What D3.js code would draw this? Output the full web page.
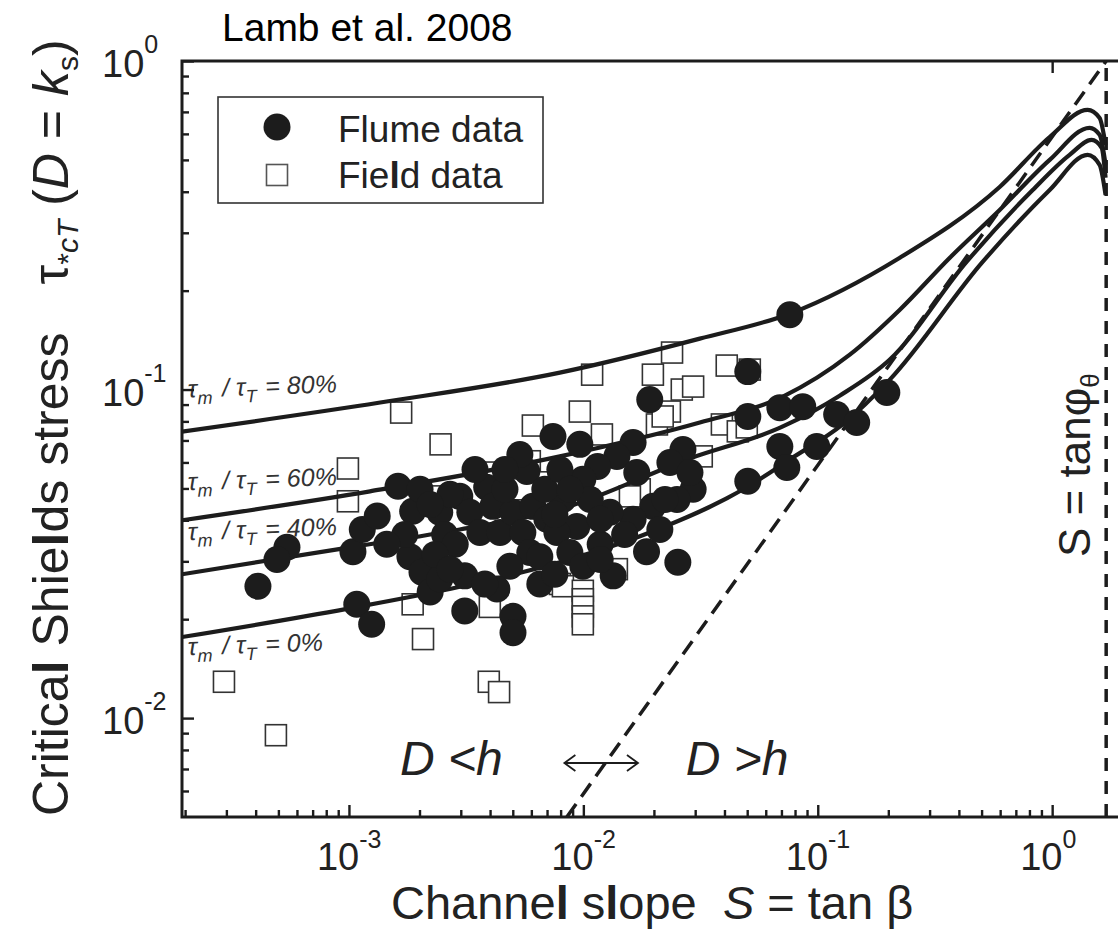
<!DOCTYPE html>
<html>
<head>
<meta charset="utf-8">
<script src="https://cdn.jsdelivr.net/npm/d3@7"></script>
<style>
  body { margin: 0; background: #fff; }
  svg { display: block; font-family: "Liberation Sans", Arial, Helvetica, sans-serif; }
  text { white-space: pre; }
</style>
</head>
<body>
<svg id="chart" width="1118" height="935"></svg>
<script>
// axis ranges and tick labels
const xDomain = [1.94e-4, 3];
const yDomain = [0.005, 1];
const xMajorTicks = [1e-3, 1e-2, 1e-1, 1];
const xTickExponents = ["-3", "-2", "-1", "0"];
const yMajorTicks = [1e-2, 1e-1, 1];
const yTickExponents = ["-2", "-1", "0"];

// field data (open squares), [S, tau]
const fieldData = [
  [2.93e-4, 0.0129], [4.88e-4, 0.00887], [1.67e-3, 0.0851], [2.46e-3, 0.0681], [9.9e-4, 0.0575], [9.9e-4, 0.0457],
  [6.09e-3, 0.0777], [5.91e-3, 0.0605], [6.39e-3, 0.0522], [5.52e-3, 0.0497], [2.29e-3, 0.0473], [3.91e-3, 0.0559],
  [1.87e-3, 0.0222], [2.07e-3, 0.0174], [7.94e-3, 0.0256], [3.99e-3, 0.0218],
  [0.0109, 0.111], [0.0239, 0.1296], [0.0198, 0.111], [0.0263, 0.1], [0.0294, 0.1021], [0.0409, 0.1183], [0.0513, 0.115],
  [9.66e-3, 0.0857], [0.012, 0.073], [0.0234, 0.0857], [0.0206, 0.0783], [0.0218, 0.0828], [0.039, 0.0783],
  [0.0456, 0.0746], [0.0498, 0.0767], [0.032, 0.0626],
  [0.0139, 0.0284], [8.18e-3, 0.0252], [9.95e-3, 0.0244], [9.95e-3, 0.023], [9.95e-3, 0.0218], [9.95e-3, 0.0204],
  [9.95e-3, 0.0193], [0.0174, 0.0497], [0.0158, 0.0473], [3.95e-3, 0.0129], [4.37e-3, 0.012]
];

// flume data (filled circles), [S, tau]
const flumeData = [
  [4.09e-4, 0.0252], [5.44e-4, 0.0331], [4.93e-4, 0.0304], [1.04e-3, 0.0321], [1.14e-3, 0.0375], [1.32e-3, 0.0412],
  [1.62e-3, 0.0508], [1.87e-3, 0.0426], [1.82e-3, 0.031], [2.05e-3, 0.0278], [2.22e-3, 0.0242], [1.08e-3, 0.0222],
  [1.25e-3, 0.0193], [2.44e-3, 0.0423], [2.97e-3, 0.0473], [3.28e-3, 0.0423], [3.12e-3, 0.0271], [3.12e-3, 0.0212],
  [3.87e-3, 0.0504], [4.11e-3, 0.0441], [3.62e-3, 0.0367], [4.41e-3, 0.0367], [5.01e-3, 0.0423], [5.52e-3, 0.0367],
  [5.91e-3, 0.0319], [4.86e-3, 0.029], [4.28e-3, 0.0247], [5.01e-3, 0.0204], [5.01e-3, 0.0182], [5.74e-3, 0.0563],
  [6.52e-3, 0.031], [7.42e-3, 0.072], [6.09e-3, 0.0441], [6.99e-3, 0.0403],
  [0.076, 0.169], [0.0503, 0.1134], [0.0192, 0.0932], [0.0503, 0.0828], [0.0689, 0.0881], [0.0863, 0.0887],
  [0.1204, 0.084], [0.1466, 0.0794], [0.1971, 0.0979], [0.0689, 0.0671], [0.099, 0.0671], [0.0738, 0.0579],
  [0.0503, 0.0526], [0.0294, 0.0497], [0.0163, 0.069], [0.0139, 0.0626], [0.0115, 0.0583], [9.95e-3, 0.0533],
  [8.18e-3, 0.0463], [0.0266, 0.0657], [0.0234, 0.06], [0.0198, 0.0441], [0.0163, 0.0403], [0.013, 0.0423],
  [0.0107, 0.0463], [9.38e-3, 0.0383], [7.71e-3, 0.0367], [8.76e-3, 0.0319], [9.95e-3, 0.029], [0.0186, 0.0321],
  [0.0253, 0.0298], [0.0134, 0.0271], [0.0169, 0.0559], [0.0251, 0.0463], [0.0285, 0.0559],
  [2.56e-3, 0.0362], [2.7e-3, 0.048], [3.45e-3, 0.0571], [4.63e-3, 0.0497], [6.85e-3, 0.0497], [2.44e-3, 0.0265],
  [3.8e-3, 0.0256], [6.52e-3, 0.0256], [2.84e-3, 0.0338], [5.36e-3, 0.0634], [7.94e-3, 0.0571], [0.0118, 0.0338],
  [0.0212, 0.0375],
  [2.01e-3, 0.0497], [1.73e-3, 0.0362], [2.33e-3, 0.0315], [7.56e-3, 0.0417], [8.76e-3, 0.0497], [0.0118, 0.0403],
  [0.015, 0.0362], [0.0223, 0.0463], [0.0118, 0.0304], [7.56e-3, 0.0274], [2.7e-3, 0.0284], [1.45e-3, 0.0338],
  [2.22e-3, 0.0447], [4.63e-3, 0.0571], [9.66e-3, 0.0681]
];

// model curves for tau_m / tau_T, [S, tau]
const curve80 = [[1.94e-4, 0.0745], [1.36e-3, 0.0913], [7.94e-3, 0.1126], [0.0314, 0.1429], [0.076, 0.1702],
  [0.224, 0.2519], [0.597, 0.4136], [0.976, 0.587], [1.417, 0.71], [1.594, 0.671], [1.69, 0.555]];
const curve60 = [[1.94e-4, 0.04], [1.23e-3, 0.049], [7.94e-3, 0.0626], [0.0314, 0.0794], [0.071, 0.0952],
  [0.137, 0.1277], [0.224, 0.175], [0.366, 0.2519], [0.597, 0.352], [0.976, 0.5], [1.445, 0.626], [1.594, 0.596],
  [1.69, 0.483]];
const curve40 = [[1.94e-4, 0.0274], [1.01e-3, 0.0331], [2.97e-3, 0.0375], [7.94e-3, 0.0432], [0.0285, 0.0617],
  [0.071, 0.0772], [0.124, 0.0958], [0.203, 0.1234], [0.432, 0.245], [0.826, 0.405], [1.187, 0.518],
  [1.474, 0.575], [1.626, 0.544], [1.69, 0.441]];
const curve0 = [[1.94e-4, 0.01765], [9.8e-4, 0.0215], [2.97e-3, 0.0251], [7.94e-3, 0.0298], [0.0192, 0.0367],
  [0.0498, 0.0504], [0.076, 0.0613], [0.1277, 0.0783], [0.203, 0.1072], [0.506, 0.245], [0.976, 0.405],
  [1.417, 0.518], [1.594, 0.483], [1.69, 0.391]];
const curves = [curve80, curve60, curve40, curve0];
const curveLabels = ["80%", "60%", "40%", "0%"];
const curveLabelPos = [[2.06e-4, 0.0946], [2.06e-4, 0.0494], [2.06e-4, 0.0348], [2.06e-4, 0.01553]];

// reference lines
const diagonalLine = [[0.0085, 0.005], [1.7, 1.0]];
const tanPhi = 1.7;

const svg = d3.select("#chart");
const W = 1118, H = 935;
const plotBox = { left: 182, top: 61, right: 1164, bottom: 817 };
const ink = "#1c1c1c";

const x = d3.scaleLog().domain(xDomain).range([plotBox.left, plotBox.right]);
const y = d3.scaleLog().domain(yDomain).range([plotBox.bottom, plotBox.top]);

svg.append("rect").attr("width", W).attr("height", H).attr("fill", "#fff");

const defs = svg.append("defs");
defs.append("clipPath").attr("id", "plot-clip")
  .append("rect")
  .attr("x", plotBox.left).attr("y", plotBox.top)
  .attr("width", plotBox.right - plotBox.left).attr("height", plotBox.bottom - plotBox.top);
defs.append("marker")
  .attr("id", "arrow").attr("viewBox", "-12 -9 14 18")
  .attr("refX", 0).attr("refY", 0)
  .attr("markerWidth", 14).attr("markerHeight", 18)
  .attr("markerUnits", "userSpaceOnUse")
  .attr("orient", "auto-start-reverse")
  .append("path").attr("d", "M-11,-8 L0,0 L-11,8").attr("fill", "none")
  .attr("stroke", ink).attr("stroke-width", 1.8);

const plot = svg.append("g").attr("clip-path", "url(#plot-clip)");

// field squares (under the curves)
plot.append("g").selectAll("rect")
  .data(fieldData)
  .join("rect")
  .attr("x", d => x(d[0]) - 10.5)
  .attr("y", d => y(d[1]) - 10.5)
  .attr("width", 21).attr("height", 21)
  .attr("fill", "#fff").attr("stroke", "#333").attr("stroke-width", 1.6);

// model curves
const lineGen = d3.line().x(d => x(d[0])).y(d => y(d[1])).curve(d3.curveMonotoneX);
plot.append("g").selectAll("path")
  .data(curves)
  .join("path")
  .attr("d", lineGen)
  .attr("fill", "none").attr("stroke", ink).attr("stroke-width", 4.2)
  .attr("stroke-linejoin", "round");

// dashed reference lines
plot.append("path")
  .attr("d", d3.line().x(d => x(d[0])).y(d => y(d[1]))(diagonalLine))
  .attr("fill", "none").attr("stroke", ink).attr("stroke-width", 3.5)
  .attr("stroke-dasharray", "16,9");
plot.append("line")
  .attr("x1", x(tanPhi)).attr("x2", x(tanPhi))
  .attr("y1", y(yDomain[0])).attr("y2", y(yDomain[1]))
  .attr("stroke", ink).attr("stroke-width", 3.5)
  .attr("stroke-dasharray", "13,10");

// flume circles
plot.append("g").selectAll("circle")
  .data(flumeData)
  .join("circle")
  .attr("cx", d => x(d[0]))
  .attr("cy", d => y(d[1]))
  .attr("r", 13.5)
  .attr("fill", ink);

// curve labels
curveLabels.forEach((lab, i) => {
  const [sx, ty] = curveLabelPos[i];
  const t = svg.append("text")
    .attr("transform", `translate(${x(sx)},${y(ty)}) rotate(-2)`)
    .attr("font-size", 25).attr("font-style", "italic").attr("fill", "#333");
  t.append("tspan").text("τ");
  t.append("tspan").attr("font-size", 18).attr("dy", 7).text("m");
  t.append("tspan").attr("dy", -7).attr("dx", 3).text(" / τ");
  t.append("tspan").attr("font-size", 18).attr("dy", 7).text("T");
  t.append("tspan").attr("dy", -7).attr("dx", 2).text(" = " + lab);
});

// D < h annotations
const regionTau = 0.00671;
svg.append("text").attr("x", x(1.65e-3)).attr("y", y(regionTau))
  .attr("font-size", 48).attr("font-style", "italic").attr("fill", "#222").text("D <h");
svg.append("text").attr("x", x(0.02735)).attr("y", y(regionTau))
  .attr("font-size", 48).attr("font-style", "italic").attr("fill", "#222").text("D >h");
svg.append("line")
  .attr("x1", x(8.3e-3)).attr("x2", x(0.0171))
  .attr("y1", y(0.0073)).attr("y2", y(0.0073))
  .attr("stroke", ink).attr("stroke-width", 1.8)
  .attr("marker-start", "url(#arrow)").attr("marker-end", "url(#arrow)");

// S = tan phi label
const phiLabel = svg.append("text")
  .attr("transform", `translate(1090,557) rotate(-90)`)
  .attr("font-size", 44).attr("fill", "#222");
phiLabel.append("tspan").text("S = tanφ");
phiLabel.append("tspan").attr("font-size", 26).attr("dy", 9).text("θ");

// axes: ticks pointing inward
function minorTicks(lo, hi) {
  const out = [];
  for (let k = -5; k <= 1; k++) {
    for (let m = 2; m <= 9; m++) {
      const v = m * Math.pow(10, k);
      if (v > lo && v < hi) out.push(v);
    }
  }
  return out;
}

const axes = svg.append("g").attr("color", ink);
axes.append("g").attr("transform", `translate(0,${plotBox.bottom})`)
  .call(d3.axisBottom(x).tickValues(xMajorTicks).tickSize(-12).tickFormat(""));
axes.append("g").attr("transform", `translate(0,${plotBox.bottom})`)
  .call(d3.axisBottom(x).tickValues(minorTicks(xDomain[0], xDomain[1])).tickSize(-7).tickFormat(""));
axes.append("g").attr("transform", `translate(${plotBox.left},0)`)
  .call(d3.axisLeft(y).tickValues(yMajorTicks).tickSize(-12).tickFormat(""));
axes.append("g").attr("transform", `translate(${plotBox.left},0)`)
  .call(d3.axisLeft(y).tickValues(minorTicks(yDomain[0], yDomain[1])).tickSize(-7).tickFormat(""));
axes.append("g").attr("transform", `translate(0,${plotBox.top})`)
  .call(d3.axisTop(x).tickValues([1]).tickSize(-12).tickFormat(""));
axes.selectAll(".domain").remove();
axes.selectAll(".tick line").attr("stroke-width", 2.4);

// frame
svg.append("rect")
  .attr("x", plotBox.left).attr("y", plotBox.top)
  .attr("width", plotBox.right - plotBox.left).attr("height", plotBox.bottom - plotBox.top)
  .attr("fill", "none").attr("stroke", ink).attr("stroke-width", 3);

// tick labels
xMajorTicks.forEach((v, i) => {
  const t = svg.append("text").attr("x", x(v) - 32).attr("y", plotBox.bottom + 53)
    .attr("font-size", 38).attr("fill", "#222");
  t.append("tspan").text("10");
  t.append("tspan").attr("font-size", 25).attr("dy", -22).text(xTickExponents[i]);
});
yMajorTicks.forEach((v, i) => {
  const t = svg.append("text").attr("x", 102).attr("y", y(v) + 16)
    .attr("font-size", 38).attr("fill", "#222");
  t.append("tspan").text("10");
  t.append("tspan").attr("font-size", 25).attr("dy", -24).text(yTickExponents[i]);
});

// axis titles
const xTitle = svg.append("text").attr("x", 391).attr("y", 919)
  .attr("font-size", 47).attr("fill", "#222");
xTitle.append("tspan").text("Channe");
xTitle.append("tspan").attr("font-weight", "bold").text("l");
xTitle.append("tspan").text(" s");
xTitle.append("tspan").attr("font-weight", "bold").text("l");
xTitle.append("tspan").text("ope  ");
xTitle.append("tspan").attr("font-style", "italic").text("S");
xTitle.append("tspan").text(" = tan β");

const yTitle = svg.append("text").attr("transform", "translate(68,816) rotate(-90)")
  .attr("font-size", 50).attr("fill", "#222");
yTitle.append("tspan").text("Critica");
yTitle.append("tspan").attr("font-weight", "bold").text("l");
yTitle.append("tspan").text(" Shie");
yTitle.append("tspan").attr("font-weight", "bold").text("l");
yTitle.append("tspan").text("ds stress");
yTitle.append("tspan").attr("dx", 48).text("τ");
yTitle.append("tspan").attr("font-size", 30).attr("dy", 10).text("*");
yTitle.append("tspan").attr("font-size", 30).attr("font-style", "italic").text("cT");
yTitle.append("tspan").attr("dy", -10).text(" (");
yTitle.append("tspan").attr("font-style", "italic").text("D");
yTitle.append("tspan").text(" = ");
yTitle.append("tspan").attr("font-style", "italic").text("k");
yTitle.append("tspan").attr("font-size", 30).attr("dy", 10).text("s");
yTitle.append("tspan").attr("dy", -10).text(")");

// legend
const legend = svg.append("g");
legend.append("rect").attr("x", 218).attr("y", 97).attr("width", 325).attr("height", 106)
  .attr("fill", "#fff").attr("stroke", "#333").attr("stroke-width", 1.6);
legend.append("circle").attr("cx", 277).attr("cy", 127).attr("r", 13.5).attr("fill", ink);
legend.append("rect").attr("x", 266.5).attr("y", 164.5).attr("width", 21).attr("height", 21)
  .attr("fill", "#fff").attr("stroke", "#555").attr("stroke-width", 1.6);
legend.append("text").attr("x", 338).attr("y", 142).attr("font-size", 37).attr("fill", "#222").text("Flume data");
const fieldLabel = legend.append("text").attr("x", 338).attr("y", 188).attr("font-size", 37).attr("fill", "#222");
fieldLabel.append("tspan").text("Fie");
fieldLabel.append("tspan").attr("font-weight", "bold").text("l");
fieldLabel.append("tspan").text("d data");

// title
svg.append("text").attr("x", 222).attr("y", 41).attr("font-size", 39).attr("fill", "#000")
  .text("Lamb et al. 2008");
</script>
</body>
</html>
